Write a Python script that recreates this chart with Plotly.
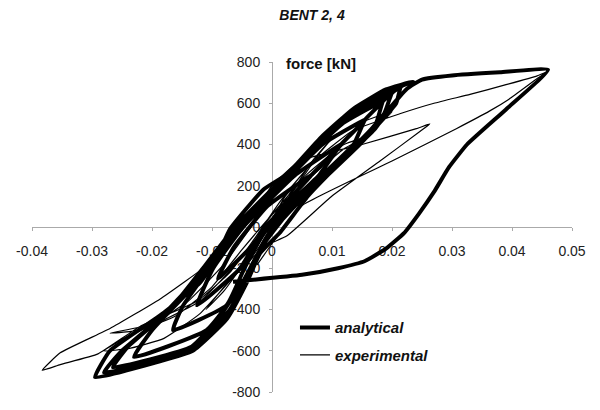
import plotly.graph_objects as go

# ---- data ----
# analytical: nested cycles of growing amplitude, then the big push to +0.046 m
ana_x = [0, 0.0018, 0.0065,
         -0.0008, -0.0064, -0.009, -0.0036, 0.0018, 0.0065,
         0.0115, 0.0038, -0.0048, -0.0098, -0.0125, -0.0053, -0.0012, 0.0078, 0.0115,
         0.0155, 0.0084, 0.0015, -0.0053, -0.0104, -0.0148, -0.0165, -0.0076, -0.0046, -0.0007, 0.0065, 0.0136, 0.0155,
         0.0185, 0.0117, 0.0044, -0.0025, -0.0082, -0.0135, -0.020, -0.023, -0.0109, -0.0055, -0.0018, 0.0035, 0.0106, 0.0173, 0.0185,
         0.020, 0.0133, 0.0059, -0.001, -0.0071, -0.0125, -0.0189, -0.024, -0.0265, -0.0134, -0.0091, -0.0045, -0.0009, 0.0054, 0.0127, 0.0187, 0.020,
         0.0215, 0.0153, 0.0074, 0.0006, -0.0062, -0.0115, -0.017, -0.025, -0.028, -0.0137, -0.007, -0.0035, 0.0002, 0.0074, 0.0146, 0.0207, 0.0215,
         0.0235, 0.019, 0.0135, 0.008, 0.0025, -0.0015, -0.007, -0.0092, -0.012, -0.0187, -0.027, -0.0295,
         -0.0242, -0.0132, -0.0075, -0.0042, -0.002, 0.0013, 0.006, 0.012, 0.017, 0.020, 0.0225, 0.025, 0.030, 0.038, 0.046,
         0.039, 0.0325, 0.0295, 0.027, 0.0245, 0.022, 0.019, 0.0155, 0.011, 0.005, -0.0065]
ana_y = [0, 100, 250,
         100, -100, -250, -100, 100, 250,
         400, 250, 0, -200, -380, -200, 0, 250, 400,
         520, 400, 200, 0, -200, -380, -500, -380, -200, 0, 200, 400, 520,
         610, 500, 300, 100, -100, -300, -500, -630, -500, -300, -100, 100, 300, 500, 610,
         650, 550, 350, 150, -50, -250, -450, -580, -680, -580, -450, -250, -50, 150, 350, 550, 650,
         680, 600, 400, 200, 0, -200, -400, -600, -705, -600, -400, -200, 0, 200, 400, 600, 680,
         705, 667, 572, 430, 256, 180, -10, -147, -270, -430, -600, -728,
         -695, -600, -445, -270, -128, -28, 150, 330, 470, 590, 670, 715, 735, 750, 762,
         570, 400, 290, 170, 65, -30, -105, -165, -200, -232, -265]

exp_x = [0, 0.002, 0.004, 0.002, -0.001, -0.004, -0.002, 0.001, 0.004,
         0.007, 0.010, 0.008, 0.003, -0.003, -0.008, -0.011, -0.008, -0.003, 0.003,
         0.008, 0.014, 0.020, 0.0135, 0.008, 0.002, -0.003, -0.008, -0.014, -0.020, -0.027,
         -0.022, -0.016, -0.010, -0.005, 0.0, 0.006, 0.012, 0.016,
         0.012, 0.006, 0.0, -0.006, -0.012, -0.018, -0.024, -0.028,
         -0.024, -0.018, -0.012, -0.006, -0.001, 0.0025, 0.010, 0.018, 0.0247, 0.0263,
         0.0242, 0.015, 0.0047, 0.0, -0.004, -0.0075, -0.0103, -0.0187, -0.027, -0.0353, -0.0383,
         -0.0353, -0.029, -0.022, -0.0125, -0.007, -0.003, 0.002, 0.007, 0.0135, 0.0213, 0.027, 0.033, 0.039, 0.0442, 0.0458,
         0.0442, 0.0395, 0.0363, 0.0308, 0.020, 0.0047, 0.001, -0.0025]
exp_y = [0, 120, 210, 140, -20, -170, -90, 60, 200,
         330, 430, 360, 150, -100, -290, -400, -310, -110, 130,
         250, 400, 558, 492, 400, 220, 20, -180, -360, -470, -515,
         -500, -430, -290, -110, 60, 230, 380, 440,
         400, 260, 60, -180, -360, -450, -530, -600,
         -590, -540, -420, -230, -90, -43, 150, 320, 464, 500,
         478, 400, 322, 200, 20, -100, -175, -350, -492, -610, -695,
         -667, -615, -482, -360, -220, -60, 150, 320, 468, 549, 600, 643, 690, 733, 752,
         720, 620, 563, 478, 320, 99, -40, -184]

x_ticks = [-0.04, -0.03, -0.02, -0.01, 0, 0.01, 0.02, 0.03, 0.04, 0.05]
x_labels = ["-0.04", "-0.03", "-0.02", "-0.01", "0", "0.01", "0.02", "0.03", "0.04", "0.05"]
y_ticks = [-800, -600, -400, -200, 0, 200, 400, 600, 800]
y_labels = ["-800", "-600", "-400", "-200", "0", "200", "400", "600", "800"]

FONT = "Liberation Sans, Arial, sans-serif"

fig = go.Figure()
fig.add_trace(go.Scatter(x=ana_x, y=ana_y, mode="lines", name="analytical",
                         legendgroup="a",
                         line=dict(color="black", width=4, shape="spline", smoothing=0.4)))
fig.add_trace(go.Scatter(x=exp_x, y=exp_y, mode="lines", name="experimental",
                         legendgroup="e",
                         line=dict(color="black", width=1.2, shape="spline", smoothing=0.4)))

X0, X1 = -0.04, 0.05
Y0, Y1 = -800, 800

fig.update_layout(
    width=600, height=410,
    margin=dict(l=32, r=28, t=62, b=10),
    paper_bgcolor="white", plot_bgcolor="white",
    font=dict(family=FONT, size=14, color="#222"),
    title=dict(text="BENT 2, 4", x=0.52, xanchor="center", y=0.963, yanchor="middle",
               font=dict(family=FONT, size=14, color="#111", weight="bold", style="italic")),
    xaxis=dict(range=[X0, X1], anchor="free", position=(0 - Y0) / (Y1 - Y0),
               tickvals=x_ticks, ticktext=x_labels, showgrid=False, zeroline=False,
               showline=True, linecolor="#aaaaaa", linewidth=1,
               ticks="outside", ticklen=3, tickcolor="#aaaaaa",
               ticklabelstandoff=8, layer="below traces",
               tickfont=dict(size=14, color="#222")),
    yaxis=dict(range=[Y0, Y1], anchor="free", position=(0 - X0) / (X1 - X0),
               tickvals=y_ticks, ticktext=y_labels, showgrid=False, zeroline=False,
               showline=True, linecolor="#aaaaaa", linewidth=1,
               ticks="outside", ticklen=3, tickcolor="#aaaaaa",
               ticklabelstandoff=6, layer="below traces",
               tickfont=dict(size=14, color="#222")),
    showlegend=True,
    legend=dict(x=0.487, y=0.245, xanchor="left", yanchor="top",
                bgcolor="rgba(0,0,0,0)", traceorder="grouped", tracegroupgap=5,
                font=dict(family=FONT, size=15, color="#111", weight="bold", style="italic"),
                itemwidth=30),
    annotations=[
        dict(text="force [kN]", x=0.002, y=795, xref="x", yref="y",
             xanchor="left", yanchor="middle", showarrow=False,
             font=dict(family=FONT, size=15, color="#111", weight="bold")),
        dict(text="displacement [m]", x=0.0505, y=-208, xref="x", yref="y",
             xanchor="right", yanchor="middle", showarrow=False,
             font=dict(family=FONT, size=15, color="#111", weight="bold")),
    ],
)

fig.write_html("out.html")
